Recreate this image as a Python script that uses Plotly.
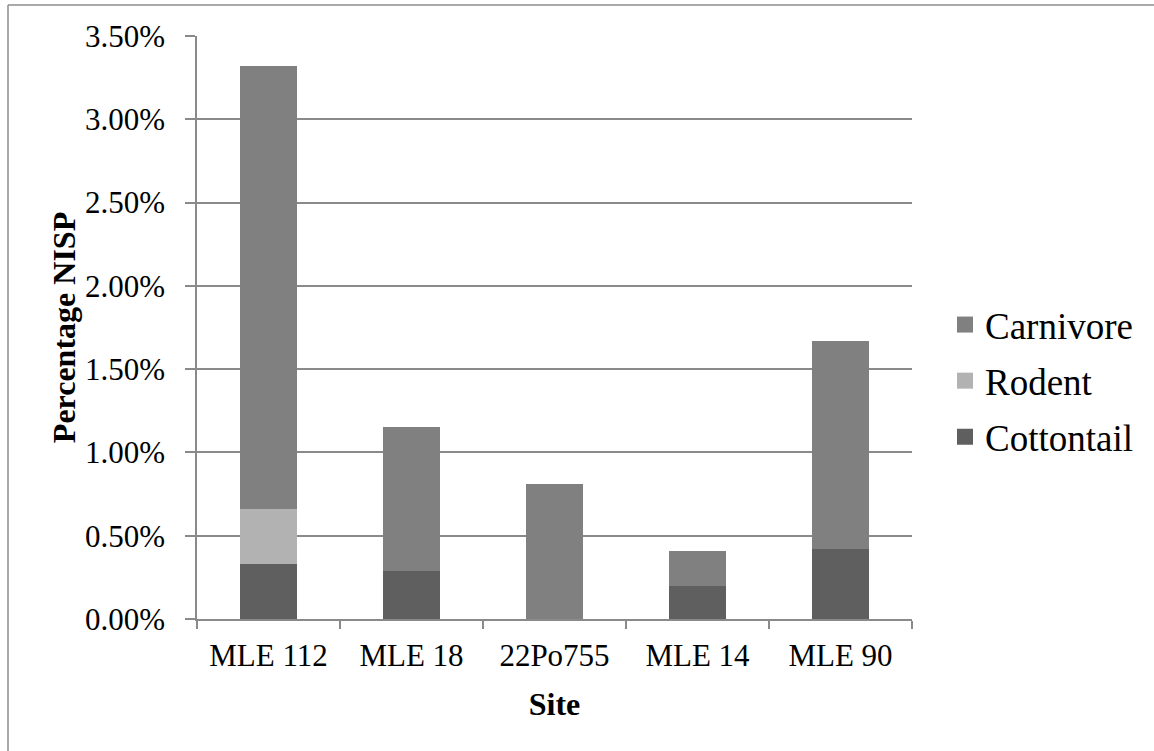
import plotly.graph_objects as go

# Percentage NISP by site and taxon group
sites = ["MLE 112", "MLE 18", "22Po755", "MLE 14", "MLE 90"]
cottontail = [0.33, 0.29, 0.0, 0.20, 0.42]
rodent = [0.33, 0.0, 0.0, 0.0, 0.0]
carnivore = [2.66, 0.86, 0.81, 0.21, 1.25]

y_ticks = [0, 0.5, 1.0, 1.5, 2.0, 2.5, 3.0, 3.5]

colors = {"Cottontail": "#5f5f5f", "Rodent": "#b2b2b2", "Carnivore": "#808080"}
FONT = "Liberation Serif, Times New Roman, serif"
GRID = "#8a8a8a"

fig = go.Figure()
for name, vals in [("Cottontail", cottontail), ("Rodent", rodent), ("Carnivore", carnivore)]:
    fig.add_trace(go.Bar(
        x=sites, y=vals, name=name, showlegend=False,
        marker=dict(color=colors[name], line=dict(width=0)),
    ))

# legend entries with square swatches
for name in ["Carnivore", "Rodent", "Cottontail"]:
    fig.add_trace(go.Scatter(
        x=[None], y=[None], mode="markers", name=name, legendgroup=name,
        marker=dict(symbol="square", size=19, color=colors[name]),
    ))

L, R, T, B = 197, 242, 36, 132
W, H = 1154, 751
pw, ph = W - L - R, H - T - B

def px_x(px):
    return (px - L) / pw

def px_y(py):
    return (H - B - py) / ph

fig.update_layout(
    width=W, height=H,
    margin=dict(l=L, r=R, t=T, b=B),
    paper_bgcolor="white", plot_bgcolor="white",
    barmode="stack", bargap=0.6,
    font=dict(family=FONT, size=31, color="black"),
    legend=dict(
        x=px_x(945), y=px_y(381), xanchor="left", yanchor="middle",
        traceorder="grouped", tracegroupgap=5,
        font=dict(size=37, family=FONT),
        itemwidth=30,
    ),
    xaxis=dict(
        title=dict(text="<b>Site</b>", font=dict(size=32, family=FONT), standoff=21),
        showline=True, linecolor=GRID, linewidth=1.5,
        ticks="outside", ticklen=8, tickcolor=GRID, tickwidth=1.5,
        tickson="boundaries", showgrid=False,
        ticklabelstandoff=8,
        tickfont=dict(size=31, family=FONT),
    ),
    yaxis=dict(
        title=dict(text="<b>Percentage NISP</b>", font=dict(size=32, family=FONT), standoff=0),
        range=[0, 3.5], tickvals=y_ticks, ticktext=[f"{v:.2f}%" for v in y_ticks],
        showline=True, linecolor=GRID, linewidth=1.5,
        ticks="outside", ticklen=10, tickcolor=GRID, tickwidth=1.5,
        ticklabelstandoff=14,
        showgrid=True, gridcolor=GRID, gridwidth=1.5,
        zeroline=False,
        tickfont=dict(size=31, family=FONT),
    ),
    shapes=[
        dict(type="line", xref="paper", yref="paper",
             x0=px_x(8), x1=px_x(1154), y0=px_y(5), y1=px_y(5),
             line=dict(color="#8c8c8c", width=1.5)),
        dict(type="line", xref="paper", yref="paper",
             x0=px_x(8), x1=px_x(8), y0=px_y(5), y1=px_y(751),
             line=dict(color="#8c8c8c", width=1.5)),
    ],
)

fig.write_html("out.html")
